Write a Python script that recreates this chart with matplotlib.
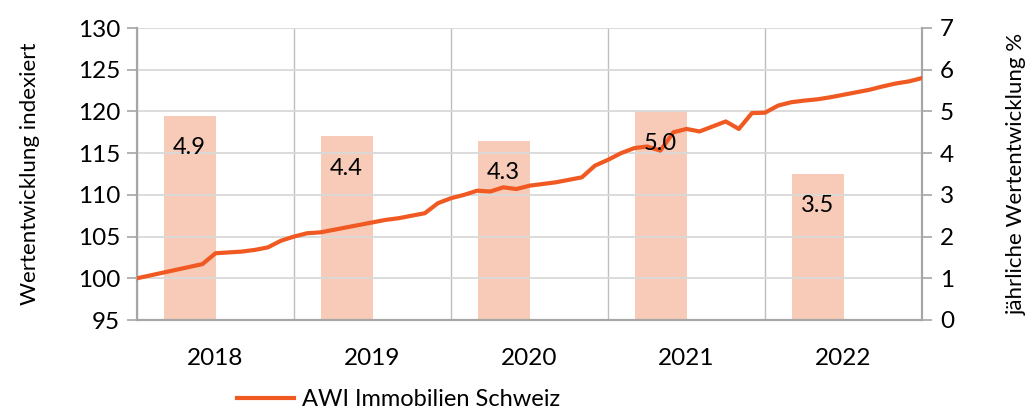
import matplotlib
matplotlib.use('Agg')
import matplotlib.pyplot as plt
import numpy as np

# --- Data ---
years = ['2018', '2019', '2020', '2021', '2022']
annual_pct = [4.9, 4.4, 4.3, 5.0, 3.5]

# monthly index, Dec 2017 = 100 (61 points)
index_values = [
    100.0, 100.34, 100.68, 101.02, 101.36, 101.7, 103.0, 103.1, 103.2, 103.4, 103.7, 104.5,
    105.0, 105.4, 105.5, 105.8, 106.1, 106.4, 106.7, 107.0, 107.2, 107.5, 107.8, 109.0,
    109.6, 110.0, 110.5, 110.4, 110.9, 110.7, 111.1, 111.3, 111.5, 111.8, 112.1, 113.5,
    114.2, 115.0, 115.6, 115.8, 115.3, 117.5, 117.9, 117.6, 118.2, 118.8, 117.9, 119.8,
    119.85, 120.7, 121.1, 121.3, 121.45, 121.7, 122.0, 122.3, 122.6, 123.0, 123.35, 123.6,
    124.0,
]
series_name = 'AWI Immobilien Schweiz'

LINE_COLOR = '#F05A22'
BAR_COLOR = '#F7CBB8'
GRID_COLOR = '#D9D9D9'
AXIS_COLOR = '#A6A6A6'

plt.rcParams['font.family'] = ['Lato', 'DejaVu Sans']

fig = plt.figure(figsize=(10.33, 4.13), dpi=100)
ax = fig.add_axes([137 / 1033, 1 - 320 / 413, 785 / 1033, 292 / 413])
ax2 = ax.twinx()

# bars on the right axis (behind the line)
cat_x = np.arange(len(years))
bar_w = 0.33
bars = ax2.bar(cat_x - bar_w / 2, annual_pct, width=bar_w, color=BAR_COLOR, zorder=1)
ax2.set_ylim(0, 7)
ax2.set_yticks(range(0, 8))
ax2.set_ylabel('jährliche Wertentwicklung %', fontsize=16, labelpad=38)

# line on the left axis
months = np.arange(len(index_values))
line_x = -0.5 + months / 12
ax.plot(line_x, index_values, color=LINE_COLOR, lw=3, label=series_name, zorder=3)
ax.set_ylim(95, 130)
ax.set_yticks(range(95, 131, 5))
ax.set_xlim(-0.5, len(years) - 0.5)
ax.set_xticks(cat_x)
ax.set_xticklabels(years)
ax.set_xticks(np.arange(-0.5, len(years)), minor=True)
ax.set_ylabel('Wertentwicklung indexiert', fontsize=16, labelpad=27)

ax.set_zorder(ax2.get_zorder() + 1)
ax.patch.set_visible(False)

# bar labels drawn on the front axes so they sit above the gridlines
for b, v in zip(bars, annual_pct):
    ax.annotate(f'{v:.1f}', (b.get_x() + b.get_width() / 2, v), xycoords=ax2.transData,
                xytext=(0, -23), textcoords='offset points',
                ha='center', va='center', fontsize=17, color='#000000', zorder=5)

ax.grid(axis='y', color=GRID_COLOR, lw=1.3)
ax.grid(axis='x', which='minor', color='#BFBFBF', lw=1)
ax.tick_params(axis='x', which='both', length=0, labelsize=17.5, pad=20)
ax.tick_params(axis='y', length=7, width=1.2, color=AXIS_COLOR, labelsize=17.5, pad=5)
ax2.tick_params(axis='y', length=7, width=1.2, color=AXIS_COLOR, labelsize=17.5, pad=6)

for a in (ax, ax2):
    a.spines['top'].set_visible(False)
    for s in ('left', 'right', 'bottom'):
        a.spines[s].set_color(AXIS_COLOR)
        a.spines[s].set_linewidth(1.5)

fig.legend(loc='center', bbox_to_anchor=(399 / 1033, 1 - 400 / 413), frameon=False,
           fontsize=17, handlelength=2.4, handletextpad=0.35)

fig.savefig('out.png', dpi=100)
